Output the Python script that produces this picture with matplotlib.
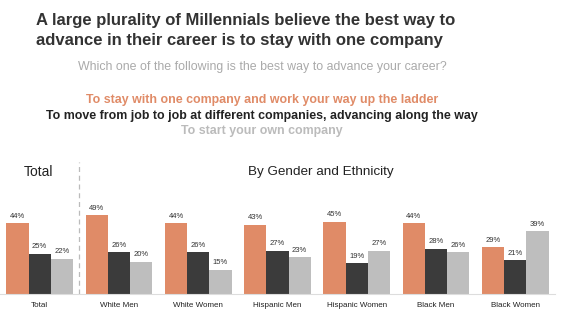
import matplotlib
matplotlib.use("Agg")
import matplotlib.pyplot as plt
import numpy as np

plt.rcParams['font.family'] = ['Liberation Sans', 'DejaVu Sans']

categories = ["Total", "White Men", "White Women", "Hispanic Men",
              "Hispanic Women", "Black Men", "Black Women"]
stay_one_company = [44, 49, 44, 43, 45, 44, 29]
job_to_job = [25, 26, 26, 27, 19, 28, 21]
own_company = [22, 20, 15, 23, 27, 26, 39]
series_names = ["To stay with one company and work your way up the ladder",
                "To move from job to job at different companies, advancing along the way",
                "To start your own company"]

c_orange = "#E08B67"
c_dark = "#3B3B3B"
c_gray = "#BEBEBE"
colors = [c_orange, c_dark, c_gray]
text_colors = [c_orange, "#222222", "#BBBBBB"]

fig = plt.figure(figsize=(5.64, 3.22), dpi=100)
fig.patch.set_facecolor("white")
W, H = 564, 322
ax = fig.add_axes([0, 28 / H, 555 / W, 132 / H])

x = np.arange(len(categories))
bw = 0.28
for i, (vals, col) in enumerate(zip([stay_one_company, job_to_job, own_company], colors)):
    bars = ax.bar(x + (i - 1) * bw, vals, width=bw, color=col, linewidth=0)
    for b, v in zip(bars, vals):
        ax.annotate(f"{v}%", (b.get_x() + b.get_width() / 2, v), xytext=(0, 2.5),
                    textcoords="offset points", ha="center", va="bottom",
                    fontsize=5.5, color="#333333")

ax.set_xlim(-0.5, 6.5)
ax.set_ylim(0, 82)
ax.set_xticks(x)
ax.set_xticklabels(categories, fontsize=5.8, color="#222222")
ax.tick_params(axis="x", length=0, pad=5.5)
ax.set_yticks([])
for s in ["top", "right", "left"]:
    ax.spines[s].set_visible(False)
ax.spines["bottom"].set_color("#DDDDDD")
ax.spines["bottom"].set_linewidth(0.8)
ax.axvline(0.5, color="#BBBBBB", linestyle=(0, (4, 3)), linewidth=0.9)

# Titles
fig.text(36 / W, 1 - 20 / H, "A large plurality of Millennials believe the best way to",
         fontsize=12, fontweight="bold", color="#333333", va="center", ha="left")
fig.text(36 / W, 1 - 40 / H, "advance in their career is to stay with one company",
         fontsize=12, fontweight="bold", color="#333333", va="center", ha="left")
fig.text(262 / W, 1 - 67 / H, "Which one of the following is the best way to advance your career?",
         fontsize=8.9, color="#AAAAAA", va="center", ha="center")
for k, (name, tc) in enumerate(zip(series_names, text_colors)):
    fig.text(262 / W, 1 - (100 + 15.7 * k) / H, name, fontsize=8.9, fontweight="bold",
             color=tc, va="center", ha="center")

fig.text(38 / W, 1 - 172 / H, "Total", fontsize=10, color="#222222", va="center", ha="center")
fig.text(321 / W, 1 - 172 / H, "By Gender and Ethnicity", fontsize=9.7, color="#222222",
         va="center", ha="center")

fig.savefig("out.png", dpi=100, facecolor="white")
